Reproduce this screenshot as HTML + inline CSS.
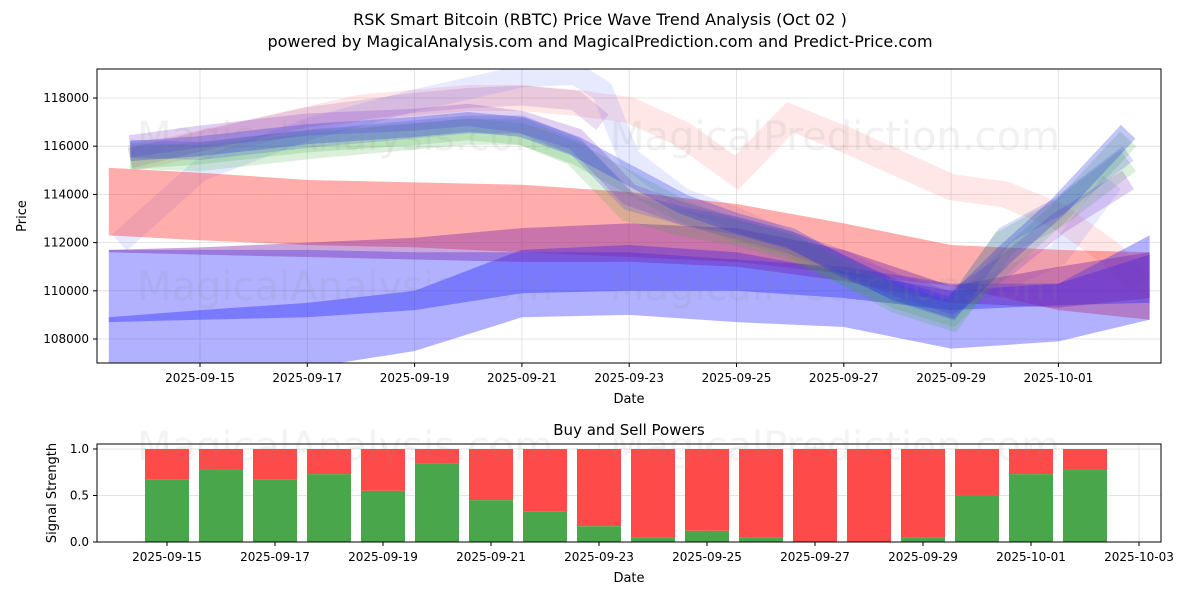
<!DOCTYPE html>
<html><head><meta charset="utf-8"><style>
body{margin:0;background:#fff;font-family:"Liberation Sans","DejaVu Sans",sans-serif;}
svg text{font-family:"DejaVu Sans","Liberation Sans",sans-serif;}
</style></head><body>
<svg id="chart" width="1200" height="600" viewBox="0 0 1200 600" xmlns="http://www.w3.org/2000/svg">
<defs><clipPath id="clipMain"><rect x="97" y="69" width="1064" height="294"/></clipPath></defs>
<text x="600" y="25" text-anchor="middle" font-size="16">RSK Smart Bitcoin (RBTC) Price Wave Trend Analysis (Oct 02 )</text>
<text x="600" y="47" text-anchor="middle" font-size="16">powered by MagicalAnalysis.com and MagicalPrediction.com and Predict-Price.com</text>
<g id="main"></g>
<g id="sub"></g>
</svg>
<script>
// ---- data ----
const priceTicks=[108000,110000,112000,114000,116000,118000];
const dateTicks=["2025-09-15","2025-09-17","2025-09-19","2025-09-21","2025-09-23","2025-09-25","2025-09-27","2025-09-29","2025-10-01"];
const subDateTicks=["2025-09-15","2025-09-17","2025-09-19","2025-09-21","2025-09-23","2025-09-25","2025-09-27","2025-09-29","2025-10-01","2025-10-03"];
const strengthTicks=[0,0.5,1.0];
const bandDays=[-1.7,0,2,4,6,8,10,12,14,16,17.7];
const redUpper=[115100,114900,114600,114500,114400,114100,113600,112800,111900,111700,111600];
const redLower=[112300,112100,111900,111800,111600,111400,111200,110700,110200,109200,108800];
const blueWideUpper=[111700,111700,111700,111600,111600,111600,111300,111000,110300,110300,112300];
const blueWideLower=[106800,106700,106800,107500,108900,109000,108700,108500,107600,107900,108800];
const blueMidUpper=[108900,109200,109500,110000,111700,111900,111600,110800,110000,110300,111500];
const blueMidLower=[108700,108800,108900,109200,109900,110000,110000,109700,109200,109400,109500];
const purpleUpper=[111700,111800,112000,112200,112600,112800,112600,111700,110200,111000,111600];
const purpleLower=[111600,111500,111400,111300,111200,111200,111000,110400,109500,109300,109700];
const clusterDays=[-1.3,0,2,4,5,6,7,8,9,10,11,12,13,14,15,16,17.3];
const clusterA=[115800,116000,116500,116800,117000,116800,116000,114800,113600,112800,112200,111000,110000,109300,111500,113500,116600];
const clusterB=[115600,115500,116000,116400,116600,116600,115700,113400,112800,112400,111800,110800,109600,108900,112000,113200,115400];
const clusterC=[116000,116400,116900,117100,117300,117000,116300,114000,113200,112600,112000,111200,110200,109500,111000,112800,114600];
const peakDays=[-1.5,0,2,4,6,7,7.5,8,9,10,12,14,16,17];
const peakLine=[112000,115000,116700,117900,118900,119000,118300,115500,113800,113000,111000,109500,111500,114500];
const pinkDays=[-1.3,1,3,5,6,7,8,9,10,11,12,13,14,15,16,17,17.5];
const pinkLine=[115500,116600,117600,118000,118000,117800,117500,116500,114900,117200,116300,115300,114300,114000,113100,111500,110300];
const lilacDays=[-1.3,0,2,4,5,6,7,7.5];
const lilacLine=[115500,116200,117200,117800,118000,118100,117900,117000];
const buy=[0.67,0.78,0.67,0.73,0.55,0.84,0.45,0.33,0.17,0.05,0.12,0.05,0.0,0.0,0.05,0.5,0.73,0.78];

const NS="http://www.w3.org/2000/svg";
const L=97,R=1161,T=69,B=363;
const xd=d=>200+d*53.65;
const yp=p=>339-(p-108000)*0.0241;
const sT=444,sB=542;
const xs=d=>167+d*54.0;
const ys=v=>sB-v*(sB-449);
function mk(tag,attrs,parent){const e=document.createElementNS(NS,tag);for(const k in attrs)e.setAttribute(k,attrs[k]);parent.appendChild(e);return e;}
const main=document.getElementById('main'),sub=document.getElementById('sub');

priceTicks.forEach(p=>{const l=mk('line',{x1:L,x2:R,y1:yp(p),y2:yp(p),stroke:'#ddd','stroke-width':0.8},main);

});
dateTicks.forEach((t,i)=>{const l=mk('line',{x1:xd(i*2),x2:xd(i*2),y1:T,y2:B,stroke:'#ddd','stroke-width':0.8},main);

});

const plot=mk('g',{'clip-path':'url(#clipMain)'},main);


function band(days,up,lo,color,op,name){
  let pts=days.map((d,i)=>xd(d)+','+yp(up[i]));
  pts=pts.concat(days.map((d,i)=>xd(d)+','+yp(lo[i])).reverse());
  const p=mk('polygon',{points:pts.join(' '),fill:color,'fill-opacity':op},plot);
  
  
}
function line(days,vals,off,color,op,w,name){
  const pts=days.map((d,i)=>xd(d)+','+yp(vals[i]+off)).join(' ');
  const p=mk('polyline',{points:pts,fill:'none',stroke:color,'stroke-opacity':op,'stroke-width':w,'stroke-linejoin':'miter'},plot);
  
  
}
line(pinkDays,pinkLine,0,'#ff4444',0.13,26,'wave-pink');
line(peakDays,peakLine,0,'#5b6bff',0.15,22,'wave-lightblue');
line(lilacDays,lilacLine,0,'#9955bb',0.2,20,'wave-lilac');
band(bandDays,redUpper,redLower,'#ff3030',0.4,'red-band');
band(bandDays,blueWideUpper,blueWideLower,'#3333ff',0.38,'blue-wide-band');
band(bandDays,blueMidUpper,blueMidLower,'#2222ff',0.38,'blue-mid-band');
band(bandDays,purpleUpper,purpleLower,'#7722aa',0.4,'purple-band');
line(clusterDays,clusterB,0,'#33aa33',0.18,26,'wave-green-1');
line(clusterDays,clusterA,-300,'#33aa33',0.18,22,'wave-green-2');
line(clusterDays,clusterC,0,'#8844cc',0.25,22,'wave-purple');
line(clusterDays,clusterA,0,'#2233dd',0.28,20,'wave-blue-1');
line(clusterDays,clusterB,300,'#2233dd',0.18,18,'wave-blue-2');

[[345,300],[835,300],[345,150],[835,150]].forEach(([x,y],i)=>{const t=mk('text',{x:x,y:y,'text-anchor':'middle','font-size':40,fill:'#888','fill-opacity':0.12},main);
t.textContent=(i%2==0)?'MagicalAnalysis.com':'MagicalPrediction.com';

});

mk('rect',{x:L,y:T,width:R-L,height:B-T,fill:'none',stroke:'#000','stroke-width':1},main);
priceTicks.forEach(p=>{mk('line',{x1:L-4,x2:L,y1:yp(p),y2:yp(p),stroke:'#000'},main);
const t=mk('text',{x:L-8,y:yp(p)+4,'text-anchor':'end','font-size':12},main);t.textContent=p;

});
dateTicks.forEach((d,i)=>{mk('line',{x1:xd(i*2),x2:xd(i*2),y1:B,y2:B+4,stroke:'#000'},main);
const t=mk('text',{x:xd(i*2),y:B+19,'text-anchor':'middle','font-size':12},main);t.textContent=d;

});
let t=mk('text',{x:629,y:403,'text-anchor':'middle','font-size':13},main);t.textContent='Date';


t=mk('text',{x:26,y:216,'text-anchor':'middle','font-size':13,transform:'rotate(-90 26 216)'},main);t.textContent='Price';



t=mk('text',{x:629,y:435,'text-anchor':'middle','font-size':15},sub);t.textContent='Buy and Sell Powers';


strengthTicks.forEach(v=>{const l=mk('line',{x1:L,x2:R,y1:ys(v),y2:ys(v),stroke:'#ddd','stroke-width':0.8},sub);

});
subDateTicks.forEach((d,i)=>{const l=mk('line',{x1:xs(i*2),x2:xs(i*2),y1:sT,y2:sB,stroke:'#ddd','stroke-width':0.8},sub);

});
const bw=44;
buy.forEach((v,i)=>{const x=xs(i)-bw/2;
const s=mk('rect',{x:x,y:ys(1),width:bw,height:ys(v)-ys(1),fill:'#ff4a4a'},sub);


const g=mk('rect',{x:x,y:ys(v),width:bw,height:sB-ys(v),fill:'#4aa64a'},sub);

});
[[345,460],[835,460]].forEach(([x,y],i)=>{const w=mk('text',{x:x,y:y,'text-anchor':'middle','font-size':40,fill:'#888','fill-opacity':0.1},sub);
w.textContent=i==0?'MagicalAnalysis.com':'MagicalPrediction.com';

});
mk('rect',{x:L,y:sT,width:R-L,height:sB-sT,fill:'none',stroke:'#000','stroke-width':1},sub);
strengthTicks.forEach(v=>{mk('line',{x1:L-4,x2:L,y1:ys(v),y2:ys(v),stroke:'#000'},sub);
const tt=mk('text',{x:L-8,y:ys(v)+4,'text-anchor':'end','font-size':12},sub);tt.textContent=v.toFixed(1);

});
subDateTicks.forEach((d,i)=>{mk('line',{x1:xs(i*2),x2:xs(i*2),y1:sB,y2:sB+4,stroke:'#000'},sub);
const tt=mk('text',{x:xs(i*2),y:sB+19,'text-anchor':'middle','font-size':12},sub);tt.textContent=d;

});
t=mk('text',{x:629,y:582,'text-anchor':'middle','font-size':13},sub);t.textContent='Date';


t=mk('text',{x:56,y:493,'text-anchor':'middle','font-size':13,transform:'rotate(-90 56 493)'},sub);t.textContent='Signal Strength';


</script>
</body></html>
